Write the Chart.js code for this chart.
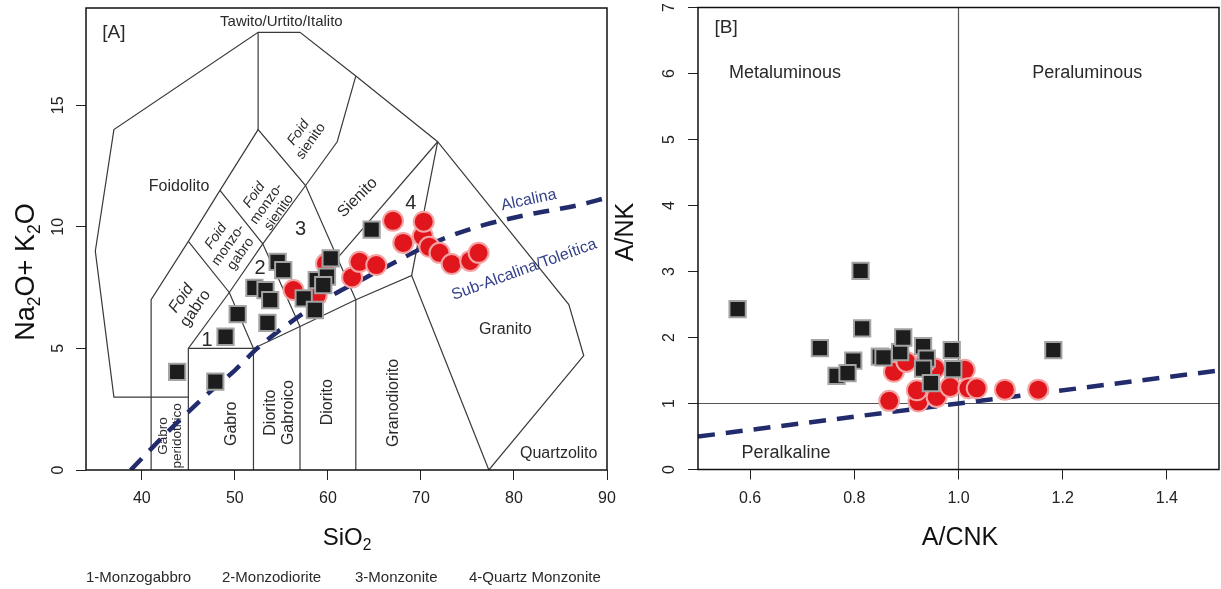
<!DOCTYPE html>
<html>
<head>
<meta charset="utf-8">
<script src="https://cdn.jsdelivr.net/npm/chart.js@4.4.1/dist/chart.umd.min.js"></script>
<style>
  html, body { margin: 0; padding: 0; background: #fff; }
  #wrap { position: relative; width: 1221px; height: 589px; overflow: hidden; }
  #tasChart { position: absolute; left: 0; top: 0; }
  #shandChart { position: absolute; left: 610px; top: 0; }
</style>
</head>
<body>
<div id="wrap">
  <canvas id="tasChart" width="640" height="589"></canvas>
  <canvas id="shandChart" width="611" height="589"></canvas>
</div>
<script>
// [A] TAS plot: SiO2 vs Na2O+K2O
const tasSquareSiO2 = [43.8, 47.9, 49.0, 50.3, 53.5, 52.1, 53.3, 53.8, 54.6, 55.2, 57.4, 58.6, 58.8, 59.9, 60.3, 59.5, 64.7];
const tasSquareAlk  = [4.04, 3.63, 5.48, 6.41, 6.05, 7.49, 7.40, 6.99, 8.56, 8.22, 7.06, 6.58, 7.81, 7.95, 8.70, 7.60, 9.89];
const tasCircleSiO2 = [56.3, 58.8, 59.8, 62.6, 63.4, 65.2, 67.0, 68.1, 70.2, 70.3, 70.9, 72.0, 73.3, 75.3, 76.2];
const tasCircleAlk  = [7.40, 7.19, 8.49, 7.92, 8.56, 8.43, 10.25, 9.34, 9.62, 10.21, 9.18, 8.93, 8.47, 8.60, 8.93];
const tasXTicks = [40, 50, 60, 70, 80, 90];
const tasYTicks = [0, 5, 10, 15];

// alkaline / sub-alkaline divide
const alkLineSiO2 = [38.8, 43, 47, 50, 52.4, 55, 58, 61, 64, 67, 70, 73, 77, 81.5, 87, 90];
const alkLineAlk  = [0, 1.65, 3.1, 4.1, 5.0, 5.8, 6.6, 7.3, 7.9, 8.5, 9.1, 9.6, 10.1, 10.5, 10.9, 11.2];

// field boundaries (Middlemost plutonic TAS)
const tasFields = [
  [[77.3, 0], [87.5, 4.7], [85.9, 6.8], [71.8, 13.5], [63, 16.2], [57, 18], [52.5, 18], [37, 14], [35, 9], [37, 3], [45, 3]],
  [[41, 0], [41, 7], [45, 9.4], [48.4, 11.5], [52.5, 14], [57.6, 11.7], [63, 7], [69, 8], [71.8, 13.5]],
  [[52.5, 14], [52.5, 18]],
  [[45, 0], [45, 5], [49.4, 7.3], [53, 9.3], [57.6, 11.7], [61, 13.5], [63, 16.2]],
  [[45, 9.4], [49.4, 7.3], [52, 5], [57, 5.9], [63, 7]],
  [[48.4, 11.5], [53, 9.3], [57, 5.9]],
  [[45, 5], [52, 5], [52, 0]],
  [[57, 0], [57, 5.9]],
  [[63, 0], [63, 7]],
  [[69, 8], [77.3, 0]],
  [[61, 8.7], [71.8, 13.5]]
];

// [B] Shand plot: A/CNK vs A/NK
const shandSquareACNK = [0.576, 0.812, 0.815, 0.734, 0.798, 0.766, 0.787, 0.849, 0.856, 0.888, 0.894, 0.932, 0.939, 0.932, 0.947, 0.987, 0.990, 1.182];
const shandSquareANK  = [2.43, 3.01, 2.14, 1.84, 1.65, 1.42, 1.46, 1.71, 1.70, 1.78, 2.00, 1.87, 1.68, 1.53, 1.31, 1.81, 1.52, 1.81];
const shandCircleACNK = [0.867, 0.923, 0.876, 0.900, 0.920, 0.958, 0.958, 0.955, 0.984, 1.012, 1.019, 1.035, 1.089, 1.153, 0.936];
const shandCircleANK  = [1.04, 1.03, 1.48, 1.63, 1.20, 1.15, 1.10, 1.53, 1.25, 1.51, 1.23, 1.23, 1.21, 1.21, 1.62];
const shandXTicks = [0.6, 0.8, 1.0, 1.2, 1.4];
const shandYTicks = [0, 1, 2, 3, 4, 5, 6, 7];
const shandDivideACNK = [0.5, 1.5];
const shandDivideANK  = [0.5, 1.5];

const FONT = '"Liberation Sans", Arial, Helvetica, sans-serif';
const TEXT = '#2a2a2a';
const NAVY = '#222c6c';
const NAVY_TEXT = '#34418a';

const zip = (xs, ys) => xs.map((x, i) => ({ x: x, y: ys[i] }));

// text placed in data units
const tasLabels = [
  { text: '[A]', x: 37.0, y: 18.0, size: 19 },
  { text: 'Tawito/Urtito/Italito', x: 55.0, y: 18.45, size: 15 },
  { text: 'Foidolito', x: 44.0, y: 11.67, size: 16 },
  { text: 'Foid\nsienito', x: 57.5, y: 13.7, size: 14, angle: -55, italicFirst: true },
  { text: 'Foid\nmonzo-\nsienito', x: 53.4, y: 10.95, size: 14, angle: -55, italicFirst: true },
  { text: 'Foid\nmonzo-\ngabro', x: 49.3, y: 9.25, size: 14, angle: -55, italicFirst: true },
  { text: 'Foid\ngabro', x: 45.0, y: 6.85, size: 16, angle: -55, italicFirst: true },
  { text: 'Sienito', x: 63.2, y: 11.2, size: 16, angle: -45 },
  { text: '1', x: 47.0, y: 5.34, size: 20 },
  { text: '2', x: 52.7, y: 8.29, size: 20 },
  { text: '3', x: 57.06, y: 9.9, size: 20 },
  { text: '4', x: 68.9, y: 10.97, size: 20 },
  { text: 'Granito', x: 79.07, y: 5.79, size: 16 },
  { text: 'Quartzolito', x: 84.8, y: 0.67, size: 16 },
  { text: 'Gabro\nperidotitico', x: 43.05, y: 1.4, size: 13.5, angle: -90 },
  { text: 'Gabro', x: 49.66, y: 1.9, size: 16, angle: -90 },
  { text: 'Diorito\nGabroico', x: 54.8, y: 2.36, size: 16, angle: -90 },
  { text: 'Diorito', x: 60.0, y: 2.79, size: 16, angle: -90 },
  { text: 'Granodiorito', x: 67.05, y: 2.76, size: 16, angle: -90 },
  { text: 'Alcalina', x: 81.6, y: 11.1, size: 16, angle: -12, color: NAVY_TEXT },
  { text: 'Sub-Alcalina/Toleítica', x: 81.1, y: 8.24, size: 16, angle: -20, color: NAVY_TEXT }
];
const tasFootnotes = ['1-Monzogabbro', '2-Monzodiorite', '3-Monzonite', '4-Quartz Monzonite'];
const tasFootnoteX = [86, 222, 355, 469];

const shandLabels = [
  { text: '[B]', x: 0.554, y: 6.69, size: 19 },
  { text: 'Metaluminous', x: 0.667, y: 6.0, size: 18 },
  { text: 'Peraluminous', x: 1.247, y: 6.0, size: 18 },
  { text: 'Peralkaline', x: 0.669, y: 0.25, size: 18 }
];

function drawLabel(ctx, chart, item) {
  const px = chart.scales.x.getPixelForValue(item.x);
  const py = chart.scales.y.getPixelForValue(item.y);
  const lines = item.text.split('\n');
  const lh = item.size * 1.08;
  ctx.save();
  ctx.translate(px, py);
  ctx.rotate((item.angle || 0) * Math.PI / 180);
  ctx.fillStyle = item.color || TEXT;
  ctx.textAlign = 'center';
  ctx.textBaseline = 'middle';
  lines.forEach((ln, i) => {
    ctx.font = (item.italicFirst && i === 0 ? 'italic ' : '') + item.size + 'px ' + FONT;
    ctx.fillText(ln, 0, (i - (lines.length - 1) / 2) * lh);
  });
  ctx.restore();
}

// text with subscripts, parts = [[text, isSub], ...]
function drawRich(ctx, parts, cx, cy, size, angle) {
  ctx.save();
  ctx.translate(cx, cy);
  ctx.rotate(angle || 0);
  ctx.fillStyle = '#111';
  ctx.textBaseline = 'middle';
  ctx.textAlign = 'left';
  let w = 0;
  parts.forEach(p => {
    ctx.font = (p[1] ? size * 0.65 : size) + 'px ' + FONT;
    w += ctx.measureText(p[0]).width;
  });
  let x = -w / 2;
  parts.forEach(p => {
    ctx.font = (p[1] ? size * 0.65 : size) + 'px ' + FONT;
    ctx.fillText(p[0], x, p[1] ? size * 0.32 : 0);
    x += ctx.measureText(p[0]).width;
  });
  ctx.restore();
}

function frameAndYLabels(chart, labelX) {
  const ctx = chart.ctx;
  const a = chart.chartArea;
  ctx.save();
  ctx.strokeStyle = '#111';
  ctx.lineWidth = 1.5;
  ctx.strokeRect(a.left, a.top, a.right - a.left, a.bottom - a.top);
  ctx.fillStyle = '#222';
  ctx.font = '16px ' + FONT;
  ctx.textAlign = 'center';
  ctx.textBaseline = 'middle';
  chart.scales.y.ticks.forEach(t => {
    const py = chart.scales.y.getPixelForValue(t.value);
    ctx.save();
    ctx.translate(labelX, py);
    ctx.rotate(-Math.PI / 2);
    ctx.fillText(String(t.value), 0, 0);
    ctx.restore();
  });
  ctx.restore();
}

const tasDecor = {
  id: 'tasDecor',
  beforeDatasetsDraw(chart) {
    tasLabels.forEach(l => drawLabel(chart.ctx, chart, l));
  },
  afterDraw(chart) {
    const ctx = chart.ctx;
    frameAndYLabels(chart, 59);
    drawRich(ctx, [['SiO', false], ['2', true]], 347, 538, 24, 0);
    drawRich(ctx, [['Na', false], ['2', true], ['O+ K', false], ['2', true], ['O', false]], 27, 272, 27, -Math.PI / 2);
    ctx.save();
    ctx.fillStyle = TEXT;
    ctx.font = '15px ' + FONT;
    ctx.textAlign = 'left';
    ctx.textBaseline = 'middle';
    tasFootnotes.forEach((t, i) => ctx.fillText(t, tasFootnoteX[i], 578));
    ctx.restore();
  }
};

const shandDecor = {
  id: 'shandDecor',
  beforeDatasetsDraw(chart) {
    shandLabels.forEach(l => drawLabel(chart.ctx, chart, l));
  },
  afterDraw(chart) {
    frameAndYLabels(chart, 60);
    drawRich(chart.ctx, [['A/CNK', false]], 350, 538, 25, 0);
    drawRich(chart.ctx, [['A/NK', false]], 16, 232, 25, -Math.PI / 2);
  }
};

function axisX(min, max, ticks, height, fmt) {
  return {
    type: 'linear', min: min, max: max,
    afterBuildTicks: s => { s.ticks = ticks.map(v => ({ value: v })); },
    afterFit: s => { s.height = height; },
    grid: { drawOnChartArea: false, drawTicks: true, tickLength: 10, color: '#222', lineWidth: 1 },
    border: { display: false },
    ticks: { font: { family: FONT, size: 16 }, color: '#222', padding: 9, autoSkip: false, maxRotation: 0, minRotation: 0, callback: fmt }
  };
}
function axisY(min, max, ticks, width) {
  return {
    type: 'linear', min: min, max: max,
    afterBuildTicks: s => { s.ticks = ticks.map(v => ({ value: v })); },
    afterFit: s => { s.width = width; },
    grid: { drawOnChartArea: false, drawTicks: true, tickLength: 10, color: '#222', lineWidth: 1 },
    border: { display: false },
    ticks: { display: false }
  };
}

const squareStyle = { pointStyle: 'rect', pointRadius: 11.5, backgroundColor: '#1d1d1d', borderColor: '#a3a3a3', borderWidth: 2, showLine: false };
const circleStyle = { pointStyle: 'circle', pointRadius: 10, backgroundColor: '#e1161c', borderColor: '#f4a4a4', borderWidth: 2, showLine: false };

const tasChart = new Chart(document.getElementById('tasChart'), {
  type: 'scatter',
  data: {
    datasets: [
      Object.assign({ label: 'Quadrados', data: zip(tasSquareSiO2, tasSquareAlk), order: 0 }, squareStyle),
      Object.assign({ label: 'Círculos', data: zip(tasCircleSiO2, tasCircleAlk), order: 1 }, circleStyle),
      {
        label: 'Alcalina / Sub-Alcalina', data: zip(alkLineSiO2, alkLineAlk), order: 2,
        showLine: true, pointRadius: 0, borderColor: NAVY, borderWidth: 4.5, borderDash: [16, 11],
        cubicInterpolationMode: 'monotone'
      }
    ].concat(tasFields.map(f => ({
      data: f.map(p => ({ x: p[0], y: p[1] })), order: 3,
      showLine: true, pointRadius: 0, borderColor: '#3a3a3a', borderWidth: 1.2
    })))
  },
  options: {
    responsive: false,
    animation: false,
    events: [],
    layout: { autoPadding: false, padding: { left: 0, top: 8, right: 33, bottom: 0 } },
    plugins: { legend: { display: false }, tooltip: { enabled: false } },
    scales: {
      x: axisX(34, 90, tasXTicks, 119, v => String(v)),
      y: axisY(0, 19, tasYTicks, 86)
    }
  },
  plugins: [tasDecor]
});

const shandChart = new Chart(document.getElementById('shandChart'), {
  type: 'scatter',
  data: {
    datasets: [
      Object.assign({ label: 'Quadrados', data: zip(shandSquareACNK, shandSquareANK), order: 0 }, squareStyle),
      Object.assign({ label: 'Círculos', data: zip(shandCircleACNK, shandCircleANK), order: 1 }, circleStyle),
      {
        data: zip(shandDivideACNK, shandDivideANK), order: 2,
        showLine: true, pointRadius: 0, borderColor: NAVY, borderWidth: 4.5, borderDash: [17, 11]
      },
      {
        data: [{ x: 1, y: 0 }, { x: 1, y: 7 }], order: 3,
        showLine: true, pointRadius: 0, borderColor: '#555', borderWidth: 1.2
      },
      {
        data: [{ x: 0.5, y: 1 }, { x: 1.5, y: 1 }], order: 3,
        showLine: true, pointRadius: 0, borderColor: '#555', borderWidth: 1.2
      }
    ]
  },
  options: {
    responsive: false,
    animation: false,
    events: [],
    layout: { autoPadding: false, padding: { left: 0, top: 7.5, right: 2, bottom: 0 } },
    plugins: { legend: { display: false }, tooltip: { enabled: false } },
    scales: {
      x: axisX(0.5, 1.5, shandXTicks, 119.5, v => Number(v).toFixed(1)),
      y: axisY(0, 7, shandYTicks, 88)
    }
  },
  plugins: [shandDecor]
});
</script>
</body>
</html>
